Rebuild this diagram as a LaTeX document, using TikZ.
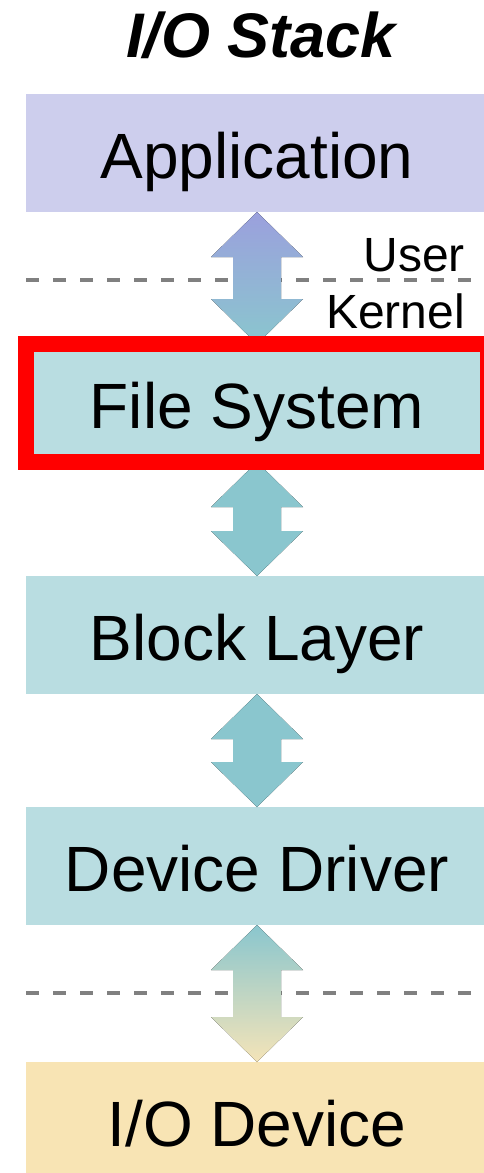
\documentclass[tikz,border=0pt]{standalone}
\usepackage{fontspec}
\setmainfont{Liberation Sans}
\usetikzlibrary{calc,positioning}
\definecolor{appLilac}{RGB}{205,206,237}
\definecolor{kernTeal}{RGB}{185,221,225}
\definecolor{devSand}{RGB}{248,228,180}
\definecolor{arrowLilac}{RGB}{155,160,221}
\definecolor{arrowTeal}{RGB}{138,198,206}
\definecolor{arrowSand}{RGB}{244,228,184}
\definecolor{ruleGray}{RGB}{128,128,128}
% block double arrow from the bottom of #1 to the top of #2, shaded #3 -> #4
\newcommand{\StackArrow}[4]{%
  \fill[top color=#3,bottom color=#4] let \p1=(#1.south), \p2=(#2.north) in
    (\p1) -- (\x1+46pt,\y1-45pt) -- (\x1+24pt,\y1-45pt) -- (\x1+24pt,\y2+45pt)
    -- (\x1+46pt,\y2+45pt) -- (\x1,\y2) -- (\x1-46pt,\y2+45pt) -- (\x1-24pt,\y2+45pt)
    -- (\x1-24pt,\y1-45pt) -- (\x1-46pt,\y1-45pt) -- cycle;}

\begin{document}
\begin{tikzpicture}[
  layerBox/.style={minimum width=462pt,minimum height=118pt,inner sep=0pt,outer sep=0pt,
    text height=50pt,text depth=0pt,font=\fontsize{64}{70}\selectfont},
  modeRule/.style={draw=ruleGray,line width=3.5pt,dash pattern=on 13pt off 14pt},
  modeLabel/.style={inner sep=0pt,anchor=base east,font=\fontsize{48}{52}\selectfont}]
\useasboundingbox (0,0) rectangle (484pt,-1173pt);

\node[inner sep=0pt,anchor=base,font=\bfseries\itshape\fontsize{63}{70}\selectfont] (title) at (261pt,-57pt) {I/O Stack};

% the layers, top to bottom
\node[layerBox,fill=appLilac] (app) at (257pt,-153pt) {Application};
\node[layerBox,fill=kernTeal,below=132pt of app] (fs) {File System};
\node[layerBox,fill=kernTeal,below=114pt of fs] (blk) {Block Layer};
\node[layerBox,fill=kernTeal,below=113pt of blk] (drv) {Device Driver};
\node[layerBox,fill=devSand,below=137pt of drv] (dev) {I/O Device};

% user/kernel and kernel/hardware borders
\coordinate (splitA) at ($(app.south west)+(0,-68pt)$);
\coordinate (splitB) at ($(drv.south west)+(0,-68pt)$);
\draw[modeRule] (splitA) -- (splitA -| app.east);
\draw[modeRule] (splitB) -- (splitB -| drv.east);

\StackArrow{app}{fs}{arrowLilac}{arrowTeal}
\StackArrow{fs}{blk}{arrowTeal}{arrowTeal}
\StackArrow{blk}{drv}{arrowTeal}{arrowTeal}
\StackArrow{drv}{dev}{arrowTeal}{arrowSand}

% highlight
\draw[red,line width=16pt] (fs.north west) rectangle (fs.south east);

\node[modeLabel] (user) at ($(splitA)+(439pt,9pt)$) {User};
\node[modeLabel] (kernel) at ($(splitA)+(439pt,-48pt)$) {Kernel};
\end{tikzpicture}
\end{document}
